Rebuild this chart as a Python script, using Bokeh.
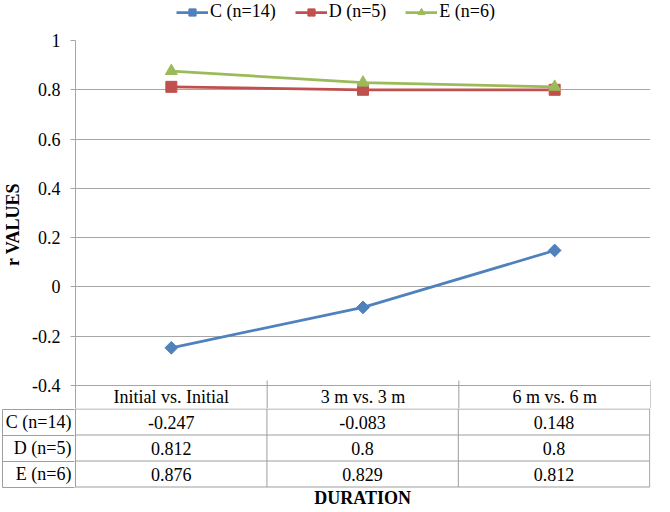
import math
from bokeh.plotting import figure
from bokeh.models import (FactorRange, Range1d, FixedTicker, Legend, LegendItem,
                          ColumnDataSource, LinearAxis)
from bokeh.transform import dodge
from bokeh.layouts import column
from bokeh.embed import file_html
from bokeh.resources import INLINE
from bokeh.core.properties import value

# ---------------- data ----------------
categories = ["Initial vs. Initial", "3 m vs. 3 m", "6 m vs. 6 m"]
series_names = ["C (n=14)", "D (n=5)", "E (n=6)"]
c_values = [-0.247, -0.083, 0.148]
d_values = [0.812, 0.8, 0.8]
e_values = [0.876, 0.829, 0.812]
y_ticks = [-0.4, -0.2, 0, 0.2, 0.4, 0.6, 0.8, 1]
y_tick_labels = ["-0.4", "-0.2", "0", "0.2", "0.4", "0.6", "0.8", "1"]
y_title = "r VALUES"
x_title = "DURATION"

series_values = [c_values, d_values, e_values]
colors = ["#4F81BD", "#C0504D", "#9BBB59"]
markers = ["square", "square", "triangle"]
marker_sizes = [9, 11, 12]
marker_angles = [math.pi / 4, 0, 0]

FONT = "Liberation Serif"
FS = "18px"
GRID = "#A6A6A6"
TABLE_LINE = "#9E9E9E"
W = 658
LEFT = 71
RIGHT = 8


def add_series(fig, legend_items=None):
    for name, vals, col, mk, ms, ang in zip(series_names, series_values, colors,
                                            markers, marker_sizes, marker_angles):
        src = ColumnDataSource(dict(x=categories, y=vals))
        lr = fig.line("x", "y", source=src, line_color=col, line_width=2.75)
        mr = fig.scatter("x", "y", source=src, marker=mk, size=ms, angle=ang,
                         fill_color=col, line_color=col)
        if legend_items is not None:
            legend_items.append(LegendItem(label=name, renderers=[lr, mr]))


# ---------------- legend strip ----------------
p0 = figure(width=W, height=22, x_range=FactorRange(*categories), y_range=Range1d(10, 11),
            x_axis_location=None, y_axis_location=None,
            min_border_left=LEFT, min_border_right=RIGHT, min_border_top=0, min_border_bottom=0,
            output_backend="svg", toolbar_location=None)
p0.outline_line_color = None
p0.grid.visible = False
items = []
add_series(p0, items)  # series lie outside this strip's range; used only for legend glyphs
legend = Legend(items=items, orientation="horizontal", location=(101, 0),
                label_text_font=FONT, label_text_font_size=FS, label_text_color="#000000",
                glyph_width=32, glyph_height=18, label_standoff=2, spacing=19,
                padding=0, margin=0, border_line_color=None, background_fill_alpha=0)
p0.add_layout(legend, "center")

# ---------------- chart (plot area + table header row) ----------------
PLOT_PX = 345
HEADER_PX = 23
y_lo, y_hi = y_ticks[0], y_ticks[-1]
hdr = HEADER_PX * (y_hi - y_lo) / PLOT_PX
tick_len = 5 * (y_hi - y_lo) / PLOT_PX

p1 = figure(x_range=FactorRange(*categories), y_range=Range1d(y_lo - hdr, y_hi),
            width=W, height=PLOT_PX + HEADER_PX + 18, x_axis_location=None,
            min_border_left=LEFT, min_border_right=RIGHT, min_border_top=18, min_border_bottom=0,
            output_backend="svg", toolbar_location=None)
p1.xgrid.visible = False
p1.outline_line_color = None
p1.ygrid.ticker = FixedTicker(ticks=y_ticks)
p1.ygrid.grid_line_color = GRID
p1.yaxis.ticker = FixedTicker(ticks=y_ticks)
p1.yaxis.major_label_overrides = {t: l for t, l in zip(y_ticks, y_tick_labels)}
p1.yaxis.axis_line_color = GRID
p1.yaxis.major_tick_line_color = GRID
p1.yaxis.major_tick_out = 5
p1.yaxis.major_tick_in = 0
p1.yaxis.minor_tick_line_color = None
p1.yaxis.major_label_text_font = FONT
p1.yaxis.major_label_text_font_size = FS
p1.yaxis.major_label_text_color = "#000000"
p1.yaxis.major_label_standoff = 10
p1.yaxis.axis_label = y_title
p1.yaxis.axis_label_text_font = FONT
p1.yaxis.axis_label_text_font_size = FS
p1.yaxis.axis_label_text_font_style = "bold"
p1.yaxis.axis_label_text_color = "#000000"
p1.yaxis.axis_label_standoff = 6
add_series(p1)

# header row of the data table
hsrc = ColumnDataSource(dict(x=categories, yc=[y_lo - hdr / 2] * len(categories),
                             yb=[y_lo - hdr] * len(categories),
                             yt=[y_lo + tick_len] * len(categories)))
p1.segment(x0=dodge("x", 0.5, range=p1.x_range), x1=dodge("x", 0.5, range=p1.x_range),
           y0="yb", y1="yt", source=hsrc, line_color=TABLE_LINE, line_width=1)
p1.text(x="x", y="yc", text="x", source=hsrc,
        text_font=value(FONT), text_font_size=value(FS), text_align="center",
        text_baseline="middle", text_color="#000000")

# ---------------- data table rows ----------------
TOP = 0.5
ROW_H = 26.0
TABLE_PX_H = 98
n_rows = len(series_names)
ncat = len(categories)
bottom = TOP + n_rows * ROW_H
row_bounds = [TOP + k * ROW_H for k in range(n_rows + 1)]
row_centers = [TOP + (r + 0.5) * ROW_H for r in range(n_rows)]

p2 = figure(x_range=Range1d(0, ncat + 0.004), y_range=Range1d(TABLE_PX_H, 0),
            width=W, height=TABLE_PX_H, x_axis_location=None, y_axis_location="left",
            min_border_left=LEFT, min_border_right=RIGHT, min_border_top=0, min_border_bottom=0,
            output_backend="svg", toolbar_location=None)
p2.outline_line_color = None
p2.grid.visible = False

# row-label axis (first column of the table)
ax1 = p2.yaxis[0]
ax1.ticker = FixedTicker(ticks=row_centers)
ax1.major_label_overrides = {c: n for c, n in zip(row_centers, series_names)}
ax1.bounds = (0, bottom)
ax1.axis_line_color = TABLE_LINE
ax1.major_tick_out = 0
ax1.major_tick_in = 0
ax1.minor_tick_line_color = None
ax1.major_label_text_font = FONT
ax1.major_label_text_font_size = FS
ax1.major_label_text_color = "#000000"
ax1.major_label_standoff = 4

# outer edge of the first column, with its row rules
ax2 = LinearAxis(ticker=FixedTicker(ticks=row_bounds),
                 major_label_overrides={b: "" for b in row_bounds},
                 bounds=(row_bounds[0], row_bounds[-1]),
                 axis_line_color=TABLE_LINE, major_tick_line_color=TABLE_LINE,
                 major_tick_in=72, major_tick_out=0, minor_tick_line_color=None,
                 major_label_standoff=0, major_label_text_font_size="1px")
p2.add_layout(ax2, "left")

x0, y0, x1, y1 = [], [], [], []
for yy in row_bounds:
    x0.append(0); x1.append(ncat); y0.append(yy); y1.append(yy)
for i in range(1, ncat + 1):
    x0.append(i); x1.append(i); y0.append(0); y1.append(bottom)
p2.segment(x0=x0, y0=y0, x1=x1, y1=y1, line_color=TABLE_LINE, line_width=1)

for r, vals in enumerate(series_values):
    p2.text(x=[i + 0.5 for i in range(ncat)], y=[row_centers[r]] * ncat,
            text=[f"{v:g}" for v in vals],
            text_font=value(FONT), text_font_size=value(FS), text_align="center",
            text_baseline="middle", text_color="#000000")

p2.text(x=[ncat / 2], y=[bottom + 10.5], text=[x_title],
        text_font=value(FONT), text_font_size=value(FS), text_font_style="bold",
        text_align="center", text_baseline="middle", text_color="#000000")

layout = column(p0, p1, p2, spacing=0)
open("out.html", "w").write(file_html(layout, INLINE))
